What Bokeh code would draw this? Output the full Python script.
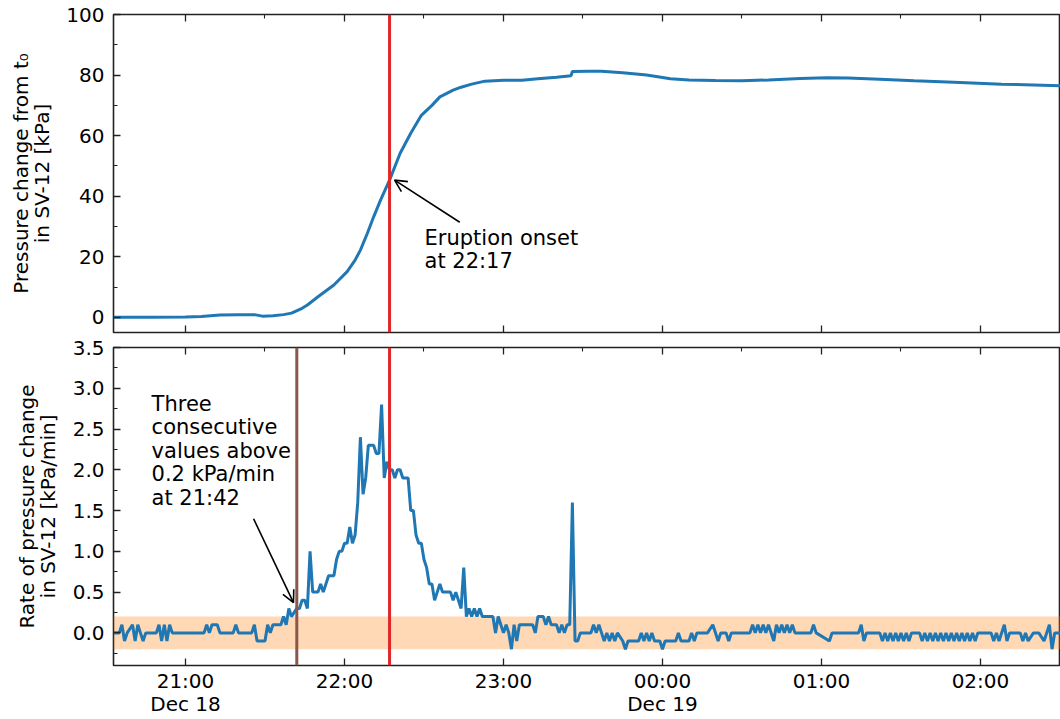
import pandas as pd
from bokeh.plotting import figure
from bokeh.layouts import column
from bokeh.models import (Span, BoxAnnotation, Arrow, OpenHead, Label, FixedTicker,
                          DatetimeAxis, Range1d, ColumnDataSource, PrintfTickFormatter,
                          CustomLabelingPolicy)
from bokeh.embed import file_html
from bokeh.resources import INLINE

# ---------------- data (minutes after 2020-12-18 20:30) ----------------
T0 = pd.Timestamp("2020-12-18 20:30")

pres_minutes = [3, 17, 30, 36, 43, 50, 56, 59, 63, 67, 70, 74, 76, 80, 86, 91, 94, 96,
                98.6, 101, 103.6, 107, 111, 115, 119, 123, 126, 131, 134, 138, 143, 150,
                157, 163, 170, 175.5, 176, 182, 187, 195, 204, 213, 220, 230, 240, 250,
                262, 272, 280, 292, 305, 320, 338, 360]
pres_kpa = [0.0, 0.0, 0.1, 0.3, 0.8, 0.9, 0.9, 0.4, 0.5, 0.9, 1.4, 3.0, 4.1, 6.8, 10.7,
            15.1, 18.9, 22.2, 27.7, 33.2, 38.7, 45.3, 54.2, 60.8, 66.7, 70.0, 72.8, 75.0,
            76.0, 77.0, 78.0, 78.3, 78.3, 78.8, 79.3, 79.8, 81.2, 81.3, 81.3, 80.8, 80.0,
            78.8, 78.4, 78.2, 78.1, 78.4, 78.9, 79.1, 79.0, 78.6, 78.1, 77.6, 77.0, 76.5]

rate_minutes = [3, 5, 6, 7, 8, 10, 11, 12, 13, 14, 15, 19, 20, 21, 22, 23, 24, 25, 37, 38,
                39, 40, 42, 43, 48, 49, 50, 55, 56, 57, 60, 61, 62, 63, 66, 67, 68, 69, 70,
                72, 73, 74, 75, 76, 77, 78, 80, 81, 82, 84, 86, 87, 88, 89, 90, 91, 92, 93,
                94, 95, 96, 97, 98, 99, 101, 102, 103, 104, 105, 106, 107, 108, 109, 110,
                111, 112, 114, 115, 116, 117, 118, 119, 120, 121, 122, 123, 124, 125, 126,
                127, 130, 131, 132, 133, 134, 135, 136, 137, 138, 139, 140, 141, 142, 146,
                147, 148, 149, 150, 151, 152, 153, 154, 155, 156, 161, 162, 163, 165, 166,
                167, 168, 170, 171, 172, 173, 174, 175, 176, 177, 178, 179, 183, 184, 185,
                186, 187, 188, 189, 190, 191, 192, 193, 195, 196, 197, 201, 202, 203, 204,
                205, 206, 207, 209, 210, 211, 215, 216, 217, 220, 221, 222, 223, 227, 229,
                231, 232, 234, 235, 236, 243, 244, 245, 246, 247, 248, 249, 250, 252, 253,
                254, 255, 256, 257, 258, 259, 260, 266, 267, 268, 273, 274, 284, 285, 286,
                287, 292, 293, 294, 295, 296, 297, 298, 299, 300, 301, 302, 303, 304, 307,
                308, 309, 310, 311, 312, 313, 314, 315, 316, 317, 318, 319, 320, 321, 322,
                323, 324, 325, 326, 327, 328, 329, 334, 335, 336, 337, 339, 340, 341, 345,
                346, 347, 348, 350, 352, 354, 355, 356, 357, 358, 360]
rate_kpa_min = [0.0, 0.0, 0.1, -0.1, 0.0, 0.1, -0.1, 0.1, 0.0, -0.1, 0.0, 0.0, 0.1, -0.1,
                0.1, -0.1, 0.1, 0.0, 0.0, 0.1, 0.0, 0.1, 0.1, 0.0, 0.0, 0.1, 0.0, 0.0, 0.1,
                -0.1, -0.1, 0.1, 0.0, 0.1, 0.1, 0.2, 0.1, 0.3, 0.2, 0.3, 0.3, 0.4, 0.4, 0.3,
                1.0, 0.5, 0.5, 0.6, 0.5, 0.7, 0.7, 0.9, 1.0, 1.0, 1.1, 1.1, 1.3, 1.1, 1.2,
                1.6, 2.4, 1.7, 1.9, 2.3, 2.3, 2.2, 2.2, 2.8, 1.9, 2.1, 2.0, 2.0, 1.9, 2.0,
                2.0, 1.9, 1.9, 1.5, 1.5, 1.2, 1.1, 1.1, 0.9, 0.8, 0.6, 0.6, 0.4, 0.5, 0.6,
                0.5, 0.5, 0.4, 0.5, 0.4, 0.3, 0.8, 0.2, 0.3, 0.2, 0.3, 0.2, 0.3, 0.2, 0.2,
                0.0, 0.2, 0.1, 0.0, 0.1, 0.0, -0.2, 0.1, -0.1, 0.1, 0.1, 0.0, 0.2, 0.2, 0.1,
                0.2, 0.1, 0.1, 0.0, 0.1, 0.0, 0.1, 0.1, 1.6, -0.1, -0.1, 0.0, 0.0, 0.1, 0.0,
                0.1, 0.0, -0.1, 0.0, -0.1, 0.0, -0.1, 0.0, -0.1, -0.2, -0.1, -0.1, 0.0, -0.1,
                0.0, -0.1, 0.0, -0.1, -0.1, -0.2, -0.1, -0.1, 0.0, -0.1, -0.1, 0.0, -0.1, 0.0,
                0.0, 0.1, -0.1, 0.0, 0.0, -0.1, 0.0, 0.0, 0.1, 0.0, 0.1, 0.0, 0.1, 0.0, 0.1,
                -0.1, 0.1, 0.0, 0.1, 0.0, 0.1, 0.0, 0.1, 0.0, 0.0, 0.1, 0.0, -0.1, 0.0, 0.0,
                0.1, -0.1, 0.0, 0.0, -0.1, 0.0, -0.1, 0.0, -0.1, 0.0, -0.1, 0.0, -0.1, 0.0,
                -0.1, 0.0, 0.0, -0.1, 0.0, -0.1, 0.0, -0.1, 0.0, -0.1, 0.0, -0.1, 0.0, -0.1,
                0.0, -0.1, 0.0, -0.1, 0.0, -0.1, 0.0, -0.1, 0.0, -0.1, 0.0, 0.0, -0.1, 0.0,
                -0.1, 0.1, -0.1, 0.0, 0.0, -0.1, 0.0, -0.1, 0.0, 0.0, -0.1, 0.0, 0.1, -0.2,
                0.0, 0.0]

tick_minutes = [30, 90, 150, 210, 270, 330]
tick_labels = ["21:00\nDec 18", "22:00", "23:00", "00:00\nDec 19", "01:00", "02:00"]
minor_minutes = [60, 120, 180, 240, 300]
onset_minute = 107      # 22:17
trigger_minute = 72     # 21:42
threshold = 0.2

pres_yticks = [0, 20, 40, 60, 80, 100]
pres_yminor = [10, 30, 50, 70, 90]
rate_yticks = [0.0, 0.5, 1.0, 1.5, 2.0, 2.5, 3.0, 3.5]
rate_yminor = [-0.25, 0.25, 0.75, 1.25, 1.75, 2.25, 2.75, 3.25]


def ms(m):
    return (T0 + pd.Timedelta(minutes=m)).value / 1e6


FONT = "DejaVu Sans"
FS = "20px"
BLUE = "#1f77b4"
RED = "#e0282a"
BROWN = "#8c564b"

xr = Range1d(ms(2.83), ms(360.2))
xticker = FixedTicker(ticks=[ms(m) for m in tick_minutes],
                      minor_ticks=[ms(m) for m in minor_minutes])

NO_LABELS = "for (const i of indices) { indices.unset(i) }\nreturn indices"


def style_axis(ax, hide_labels=False):
    ax.major_tick_in = 7
    ax.major_tick_out = 0
    ax.minor_tick_in = 4
    ax.minor_tick_out = 0
    ax.major_tick_line_width = 1.3
    ax.minor_tick_line_width = 1.1
    ax.major_tick_line_color = "#222222"
    ax.minor_tick_line_color = "#222222"
    ax.axis_line_color = None
    ax.major_label_text_font = FONT
    ax.major_label_text_color = "black"
    ax.axis_label_text_font = FONT
    ax.axis_label_text_font_size = FS
    ax.axis_label_text_font_style = "normal"
    ax.axis_label_text_color = "black"
    if hide_labels:
        ax.major_label_policy = CustomLabelingPolicy(code=NO_LABELS)
        ax.major_label_text_font_size = "0px"
        ax.major_label_standoff = 0
    else:
        ax.major_label_text_font_size = FS
        ax.major_label_standoff = 9


def make_fig(height, yr, border_top, border_bottom):
    p = figure(width=1060, height=height, x_range=xr, y_range=yr, x_axis_type="datetime",
               output_backend="svg", toolbar_location=None,
               min_border_left=113, min_border_right=0,
               min_border_top=border_top, min_border_bottom=border_bottom)
    p.xgrid.visible = False
    p.ygrid.visible = False
    p.outline_line_color = "#222222"
    p.outline_line_width = 1.6
    p.outline_line_alpha = 1.0
    p.background_fill_color = "white"
    p.border_fill_color = "white"
    top_ax = DatetimeAxis(ticker=xticker)
    style_axis(top_ax, hide_labels=True)
    p.add_layout(top_ax, "above")
    return p


# ---------------- top panel ----------------
p1 = make_fig(336, Range1d(-5, 100), 14, 4)
p1.xaxis[0].ticker = xticker
for ax in p1.below:
    style_axis(ax, hide_labels=True)
p1.yaxis.ticker = FixedTicker(ticks=pres_yticks, minor_ticks=pres_yminor)
style_axis(p1.yaxis[0])
p1.yaxis[0].axis_label = "Pressure change from t\u2080\nin SV-12 [kPa]"
p1.yaxis[0].axis_label_standoff = 9
p1.yaxis[0].axis_label_text_line_height = 0.88

src1 = ColumnDataSource(dict(t=[ms(m) for m in pres_minutes], v=pres_kpa))
p1.line("t", "v", source=src1, line_color=BLUE, line_width=3)
p1.add_layout(Span(location=ms(onset_minute), dimension="height", line_color=RED, line_width=3))
p1.add_layout(Arrow(end=OpenHead(size=12, line_width=1.6, line_color="black"),
                    x_start=ms(133.5), y_start=31.4, x_end=ms(108.9), y_end=45.3,
                    line_width=1.6, line_color="black"))
p1.add_layout(Label(x=ms(120.2), y=30.2, text="Eruption onset\nat 22:17",
                    text_font=FONT, text_font_size="21px", text_baseline="top",
                    text_color="black", text_line_height=0.98))

# ---------------- bottom panel ----------------
p2 = make_fig(383, Range1d(-0.4, 3.5), 11, 52)
p2.xaxis[0].ticker = xticker
style_axis(p2.below[0])
p2.below[0].major_label_overrides = {ms(m): lab for m, lab in zip(tick_minutes, tick_labels)}
p2.below[0].major_label_standoff = 3
p2.below[0].major_label_text_line_height = 0.99
p2.yaxis.ticker = FixedTicker(ticks=rate_yticks, minor_ticks=rate_yminor)
p2.yaxis.formatter = PrintfTickFormatter(format="%.1f")
style_axis(p2.yaxis[0])
p2.yaxis[0].axis_label = "Rate of pressure change\nin SV-12 [kPa/min]"
p2.yaxis[0].axis_label_standoff = 10
p2.yaxis[0].axis_label_text_line_height = 0.88

p2.add_layout(BoxAnnotation(bottom=-threshold, top=threshold, fill_color="#ff7f0e",
                            fill_alpha=0.3, line_color=None, level="underlay"))
src2 = ColumnDataSource(dict(t=[ms(m) for m in rate_minutes], v=rate_kpa_min))
p2.line("t", "v", source=src2, line_color=BLUE, line_width=3)
p2.add_layout(Span(location=ms(trigger_minute), dimension="height", line_color=BROWN, line_width=3))
p2.add_layout(Span(location=ms(onset_minute), dimension="height", line_color=RED, line_width=3))
p2.add_layout(Arrow(end=OpenHead(size=12, line_width=1.6, line_color="black"),
                    x_start=ms(55.7), y_start=1.40, x_end=ms(70.75), y_end=0.37,
                    line_width=1.6, line_color="black"))
p2.add_layout(Label(x=ms(17.2), y=2.96,
                    text="Three\nconsecutive\nvalues above\n0.2 kPa/min\nat 21:42",
                    text_font=FONT, text_font_size="21px", text_baseline="top",
                    text_color="black", text_line_height=0.98))

layout = column(p1, p2, spacing=0)
open("out.html", "w").write(file_html(layout, INLINE))
